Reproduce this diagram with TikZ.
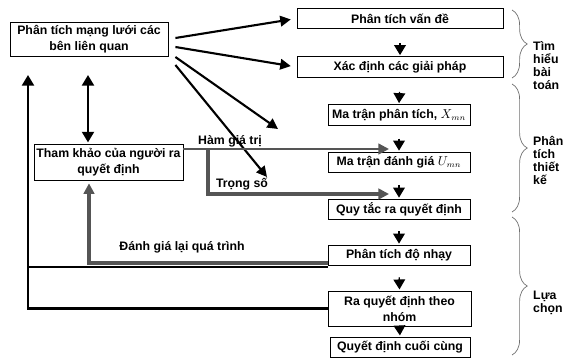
\documentclass[tikz,border=0pt]{standalone}
\usepackage{fontspec}
\setmainfont{Liberation Sans}
\usetikzlibrary{arrows.meta,calc,decorations.pathreplacing}
\definecolor{gline}{HTML}{555555}
\definecolor{bline}{HTML}{707070}
\begin{document}
\begin{tikzpicture}[x={(0.03cm,0)}, y={(0,-0.03cm)},
  box/.style={draw, line width=0.7pt, inner sep=0pt, align=center,
    font=\fontsize{10.5}{13.7}\selectfont\bfseries},
  wide/.style={minimum width=6.18cm, minimum height=0.62cm},
  mid/.style={minimum width=4.26cm, minimum height=0.62cm},
  lbl/.style={inner sep=0pt, font=\fontsize{10.5}{12}\selectfont\bfseries},
  btxt/.style={inner sep=0pt, align=left, font=\fontsize{10.5}{11.2}\selectfont\bfseries},
  blk/.style={line width=2.4pt, -{Triangle[length=9pt,width=10pt]}},
  thk/.style={line width=2.4pt},
  dia/.style={line width=1.8pt, -{Triangle[length=9pt,width=9pt]}},
  gry/.style={draw=gline, line width=2.6pt, -{Triangle[length=9pt,width=9pt]}},
  tri/.style={line width=1pt, -{Triangle[length=8.5pt,width=10pt]}, shorten <=#1, shorten >=1pt},
  brc/.style={draw=bline, line width=0.6pt, decorate, decoration={brace, amplitude=13pt}}
]
\useasboundingbox (0,0) rectangle (568,359);

% boxes
\node[box, minimum width=4.74cm, minimum height=1.02cm] (A) at (89,39) {Phân tích mạng lưới các\\bên liên quan};
\node[box, wide] (B) at (400,18.5) {Phân tích vấn đề};
\node[box, wide] (C) at (400,67) {Xác định các giải pháp};
\node[box, mid] (D) at (399,115) {Ma trận phân tích, $X_{mn}$};
\node[box, mid] (E) at (399,162.5) {Ma trận đánh giá $U_{mn}$};
\node[box, mid] (F) at (399,209.5) {Quy tắc ra quyết định};
\node[box, mid] (G) at (399,255.5) {Phân tích độ nhạy};
\node[box, minimum width=4.29cm, minimum height=1.05cm] (H) at (399.5,308.5) {Ra quyết định theo\\nhóm};
\node[box, minimum width=4.2cm, minimum height=0.6cm] (I) at (400,347) {Quyết định cuối cùng};
\node[box, minimum width=4.47cm, minimum height=1.08cm] (J) at (108.5,162) {Tham khảo của người ra\\quyết định};

% vertical chain triangles
\draw[tri=12pt] (B.south) -- (C.north);
\draw[tri=12pt] (C.south) -- (D.north);
\draw[tri=11pt] (D.south) -- (E.north);
\draw[tri=10pt] (E.south) -- (F.north);
\draw[tri=9.4pt] (F.south) -- (G.north);
\draw[tri=9.4pt] (G.south) -- (H.north);
\draw[tri=0pt] (H.south) -- (I.north);

% arrows from A
\coordinate (d1) at (278,129);
\coordinate (d2) at (267,177);
\draw[dia, shorten >=5pt] ($(A.east)+(7,-1)$) -- (B.west);
\draw[dia, shorten >=5pt] ($(A.east)+(7,8)$) -- (C.west);
\draw[dia] ($(A.east)+(7,18)$) -- (d1);
\draw[dia] ($(A.east)+(7,26)$) -- (d2);

% left feedback lines
\coordinate (lt) at (28,75);
\draw[blk] (H.west) -| (lt);
\coordinate (lm) at (28,267);
\draw[thk] (lm) -- (lm -| G.west);
\coordinate (gj) at (89,263);
\draw[gry, shorten >=2.5pt] (gj -| G.west) -- (gj) -- (gj |- J.south);
\coordinate (dt) at (88,75);
\draw[line width=2.4pt, {Triangle[length=9pt,width=10pt]}-{Triangle[length=9pt,width=10pt]}, shorten >=1pt] (dt) -- (dt |- J.north);

% value function and weights
\coordinate (hv) at (208,149);
\coordinate (he) at (389,149);
\coordinate (te) at (389,194);
\draw[gry, line width=2pt] (he -| J.east) -- (he);
\draw[gry] (hv) |- (te);

% labels
\node[lbl] (l1) at (230,141) {Hàm giá trị};
\node[lbl] (l2) at (242,184) {Trọng số};
\node[lbl] (l3) at (182,247) {Đánh giá lại quá trình};

% braces
\draw[brc] (512,10) -- (512,78);
\draw[brc] (512,84) -- (512,212);
\draw[brc] (512,217) -- (512,355);
\node[btxt, anchor=north west] (t1) at (533,41) {Tìm\\hiểu\\bài\\toán};
\node[btxt, anchor=north west] (t2) at (533,136) {Phân\\tích\\thiết\\kế};
\node[btxt, anchor=north west] (t3) at (533,291) {Lựa\\chọn};
\end{tikzpicture}
\end{document}
